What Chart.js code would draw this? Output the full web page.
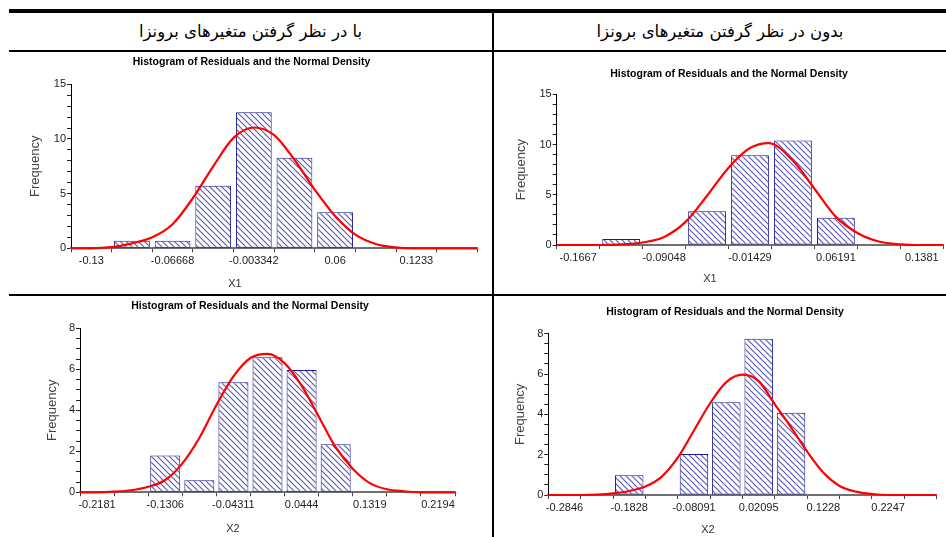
<!DOCTYPE html>
<html>
<head>
<meta charset="utf-8">
<script src="https://cdn.jsdelivr.net/npm/chart.js@4.4.1/dist/chart.umd.min.js"></script>
<style>
  html, body { margin: 0; padding: 0; background: #fff; }
  #page { position: relative; width: 946px; height: 537px; overflow: hidden; background: #fff; }
  .ln { position: absolute; background: #000; z-index: 5; }
  .hdr { position: absolute; top: 13px; height: 37px; line-height: 37px; text-align: center;
         font-family: 'DejaVu Sans', 'Noto Sans', sans-serif; font-size: 16.5px; color: #000; direction: rtl; }
  .cell { position: absolute; }
  .xt { position: absolute; font-family: 'Liberation Sans', Arial, sans-serif; font-size: 11px; color: #333;
        transform: translate(-50%, -50%); white-space: nowrap; }
</style>
</head>
<body>
<div id="page">
  <div class="ln" style="left:9px;top:9px;width:937px;height:4px"></div>
  <div class="ln" style="left:9px;top:50px;width:937px;height:2px"></div>
  <div class="ln" style="left:9px;top:294px;width:937px;height:2px"></div>
  <div class="ln" style="left:492px;top:9px;width:2px;height:528px"></div>

  <div class="hdr" style="left:9px;width:483px">با در نظر گرفتن متغیرهای برونزا</div>
  <div class="hdr" style="left:494px;width:452px">بدون در نظر گرفتن متغیرهای برونزا</div>

  <div class="cell" style="left:9px;top:52px;width:483px;height:241px"><canvas id="cTL"></canvas></div>
  <div class="cell" style="left:494px;top:52px;width:452px;height:241px"><canvas id="cTR"></canvas></div>
  <div class="cell" style="left:9px;top:296px;width:483px;height:241px"><canvas id="cBL"></canvas></div>
  <div class="cell" style="left:494px;top:296px;width:452px;height:241px"><canvas id="cBR"></canvas></div>

  <div class="xt" style="left:235px;top:283px">X1</div>
  <div class="xt" style="left:710px;top:278px">X1</div>
  <div class="xt" style="left:233px;top:528px">X2</div>
  <div class="xt" style="left:708px;top:529px">X2</div>
</div>

<script>
// ---------- data ----------
const chartTitle = 'Histogram of Residuals and the Normal Density';
const yTitle = 'Frequency';

// Top-left: with exogenous variables, X1
const tlBins  = ['-0.13', '', '-0.06668', '', '-0.003342', '', '0.06', '', '0.1233', ''];
const tlFreq  = [null, 0.7, 0.7, 5.73, 12.44, 8.29, 3.29, null, null, null];
const tlCurveX = [-0.1458, -0.13, -0.1142, -0.0983, -0.0825, -0.0667, -0.0508, -0.035, -0.0192, -0.0033,
                  0.0125, 0.0283, 0.0442, 0.06, 0.0758, 0.0917, 0.1075, 0.1233, 0.1392, 0.155, 0.1708];
const tlCurveY = [0, 0, 0.1, 0.45, 1.0, 2.2, 4.6, 7.5, 10.1, 11.05,
                  10.35, 8.1, 5.35, 2.95, 1.25, 0.4, 0.08, 0, 0, 0, 0];
const tlRange = [-0.14584, 0.17084];

// Top-right: without exogenous variables, X1
const trBins  = ['-0.1667', '', '-0.09048', '', '-0.01429', '', '0.06191', '', '0.1381'];
const trFreq  = [null, 0.6, null, 3.35, 8.93, 10.39, 2.72, null, null];
const trCurveX = [-0.1858, -0.1667, -0.1477, -0.1286, -0.1096, -0.0905, -0.0714, -0.0524, -0.0333, -0.0143,
                  0.002, 0.0238, 0.0429, 0.0619, 0.081, 0.1, 0.1191, 0.1381, 0.1572];
const trCurveY = [0, 0, 0, 0.05, 0.25, 0.8, 2.3, 4.9, 7.7, 9.65,
                  10.15, 8.4, 5.6, 2.8, 1.2, 0.35, 0.07, 0, 0];
const trRange = [-0.18576, 0.15719];

// Bottom-left: with exogenous variables, X2
const blBins  = ['-0.2181', '', '-0.1306', '', '-0.04311', '', '0.0444', '', '0.1319', '', '0.2194'];
const blFreq  = [null, null, 1.8, 0.59, 5.37, 6.59, 5.97, 2.34, null, null, null];
const blCurveX = [-0.24, -0.2181, -0.1963, -0.1744, -0.1525, -0.1306, -0.1088, -0.0869, -0.065, -0.0431,
                  -0.0213, 0.0006, 0.0225, 0.0444, 0.0663, 0.0881, 0.11, 0.1319, 0.1538, 0.1756,
                  0.1975, 0.2194, 0.2413];
const blCurveY = [0, 0, 0.03, 0.1, 0.27, 0.6, 1.4, 2.65, 4.25, 5.65,
                  6.55, 6.75, 6.3, 5.2, 3.7, 2.2, 1.15, 0.45, 0.15, 0.05,
                  0, 0, 0];
const blRange = [-0.23998, 0.24127];

// Bottom-right: without exogenous variables, X2
const brBins  = ['-0.2846', '', '-0.1828', '', '-0.08091', '', '0.02095', '', '0.1228', '', '0.2247', ''];
const brFreq  = [null, null, 0.98, null, 2.03, 4.6, 7.75, 4.08, null, null, null, null];
const brCurveX = [-0.3101, -0.2846, -0.2592, -0.2337, -0.2083, -0.1828, -0.1573, -0.1319, -0.1064, -0.0809,
                  -0.0555, -0.03, -0.0045, 0.0209, 0.0464, 0.0719, 0.0973, 0.1228, 0.1482, 0.1737,
                  0.1992, 0.2247, 0.2501, 0.2756, 0.3011];
const brCurveY = [0, 0, 0, 0.02, 0.08, 0.2, 0.42, 0.9, 1.85, 3.2,
                  4.55, 5.6, 5.97, 5.65, 4.5, 3.35, 2.15, 1.1, 0.45, 0.17,
                  0.05, 0, 0, 0, 0];
const brRange = [-0.31007, 0.30109];

// ---------- styling helpers ----------
function makeHatch() {
  const c = document.createElement('canvas');
  c.width = 6; c.height = 6;
  const g = c.getContext('2d');
  g.fillStyle = '#ffffff';
  g.fillRect(0, 0, 6, 6);
  g.strokeStyle = '#5c5cb4';
  g.lineWidth = 1.2;
  g.beginPath();
  g.moveTo(-1, -1); g.lineTo(7, 7);
  g.moveTo(-1, 5); g.lineTo(1, 7);
  g.moveTo(5, -1); g.lineTo(7, 1);
  g.stroke();
  return g.createPattern(c, 'repeat');
}
const hatch = makeHatch();
const FONT = "'Liberation Sans', Arial, sans-serif";

function build(id, bins, freq, cx, cy, range, yMax, yStep, yLabelEvery, lay) {
  const curve = cx.map((x, i) => ({ x: x, y: cy[i] }));
  new Chart(document.getElementById(id), {
    type: 'bar',
    data: {
      labels: bins,
      datasets: [
        {
          type: 'line', data: curve, xAxisID: 'xc', yAxisID: 'y',
          borderColor: '#ff0000', borderWidth: 2.2, pointRadius: 0,
          cubicInterpolationMode: 'monotone', order: 0, clip: false
        },
        {
          type: 'bar', data: freq, xAxisID: 'x', yAxisID: 'y', grouped: false,
          backgroundColor: hatch, borderColor: '#1c1c8e', borderWidth: 1,
          borderSkipped: false, barPercentage: 0.88, categoryPercentage: 1, order: 1
        }
      ]
    },
    options: {
      responsive: true, maintainAspectRatio: false, animation: false,
      events: [],
      layout: { padding: { left: lay.padL, right: lay.padR, top: 0, bottom: 0 } },
      plugins: {
        legend: { display: false },
        tooltip: { enabled: false },
        title: {
          display: true, text: chartTitle, color: '#000',
          font: { family: "'Liberation Sans Narrow', 'Liberation Sans', Arial, sans-serif", size: 10.5, weight: 'bold', lineHeight: 1.2 },
          padding: { top: lay.tTop + 0.3, bottom: lay.tBot + 0.3 }
        }
      },
      scales: {
        x: {
          type: 'category', position: 'bottom', offset: true,
          afterFit: s => { s.height = lay.xH; },
          grid: { offset: true, drawOnChartArea: false, drawTicks: true, tickLength: 4, tickColor: '#444', tickWidth: 1 },
          border: { display: true, color: '#707070', width: 2 },
          ticks: { autoSkip: false, maxRotation: 0, padding: 2, color: '#222', font: { family: FONT, size: 11 } }
        },
        xc: {
          type: 'linear', axis: 'x', position: 'bottom', display: false,
          offset: false, bounds: 'data', grid: { offset: false },
          min: range[0], max: range[1]
        },
        y: {
          type: 'linear', position: 'left', min: 0, max: yMax,
          afterFit: s => { s.width = lay.yW; },
          grid: { drawOnChartArea: false, drawTicks: true, tickLength: 4, tickColor: '#222', tickWidth: 1 },
          border: { display: true, color: '#000', width: 1 },
          ticks: {
            stepSize: yStep, autoSkip: false, padding: 1, color: '#222',
            font: { family: FONT, size: 11 },
            callback: v => (Math.abs(v / yLabelEvery - Math.round(v / yLabelEvery)) < 1e-6 ? String(v) : '')
          },
          title: {
            display: true, text: yTitle, color: '#444',
            font: { family: FONT, size: 13, lineHeight: 1 },
            padding: { top: lay.yTP, bottom: 0 }
          }
        }
      }
    }
  });
}

build('cTL', tlBins, tlFreq, tlCurveX, tlCurveY, tlRange, 15, 1, 5,
      { padL: 16.7, padR: 14.7, tTop: 3.4, tBot: 15.7, xH: 44.7, yW: 45.3, yTP: 2.8 });
build('cTR', trBins, trFreq, trCurveX, trCurveY, trRange, 15, 1, 5,
      { padL: 20.7, padR: 2.7, tTop: 15.4, tBot: 13.7, xH: 48, yW: 42, yTP: 0 });
build('cBL', blBins, blFreq, blCurveX, blCurveY, blRange, 8, 0.5, 2,
      { padL: 36, padR: 37, tTop: 3.4, tBot: 15.7, xH: 44.7, yW: 35, yTP: 1.2 });
build('cBR', brBins, brFreq, brCurveX, brCurveY, brRange, 8, 0.5, 2,
      { padL: 19.3, padR: 9.3, tTop: 9.4, tBot: 15.1, xH: 42, yW: 35, yTP: 0.2 });
</script>
</body>
</html>
